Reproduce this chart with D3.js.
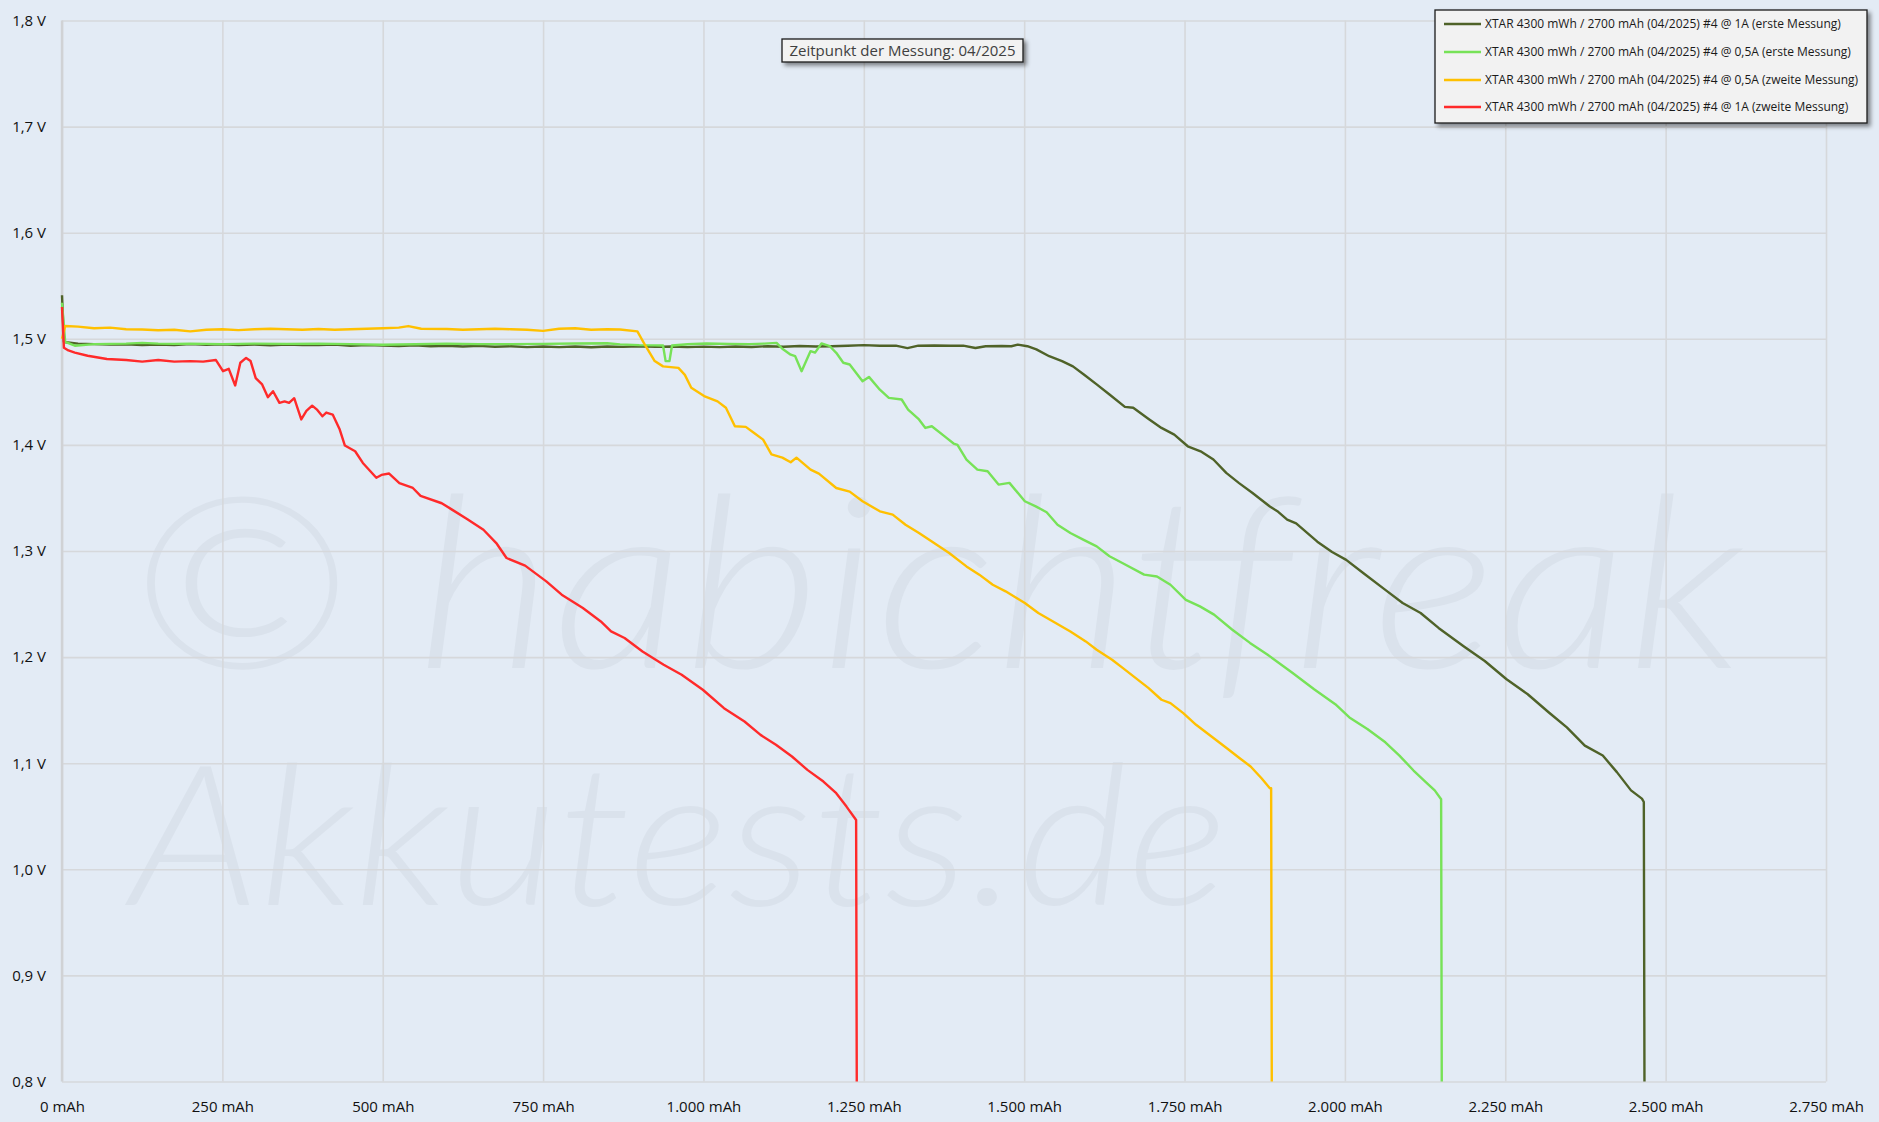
<!DOCTYPE html>
<html>
<head>
<meta charset="utf-8">
<script src="https://cdn.jsdelivr.net/npm/d3@7"></script>
<style>
  html, body { margin: 0; padding: 0; background: #e3ebf5; }
  svg { display: block; }
</style>
</head>
<body>
<svg id="chart" width="1879" height="1122"></svg>
<script>
// ---------------- DATA ----------------
const xTicks = [0, 250, 500, 750, 1000, 1250, 1500, 1750, 2000, 2250, 2500, 2750];
const xTickLabels = ["0 mAh", "250 mAh", "500 mAh", "750 mAh", "1.000 mAh", "1.250 mAh", "1.500 mAh", "1.750 mAh", "2.000 mAh", "2.250 mAh", "2.500 mAh", "2.750 mAh"];
const yTicks = [0.8, 0.9, 1.0, 1.1, 1.2, 1.3, 1.4, 1.5, 1.6, 1.7, 1.8];
const yTickLabels = ["0,8 V", "0,9 V", "1,0 V", "1,1 V", "1,2 V", "1,3 V", "1,4 V", "1,5 V", "1,6 V", "1,7 V", "1,8 V"];

const seriesNames = [
  "XTAR 4300 mWh / 2700 mAh (04/2025) #4 @ 1A (erste Messung)",
  "XTAR 4300 mWh / 2700 mAh (04/2025) #4 @ 0,5A (erste Messung)",
  "XTAR 4300 mWh / 2700 mAh (04/2025) #4 @ 0,5A (zweite Messung)",
  "XTAR 4300 mWh / 2700 mAh (04/2025) #4 @ 1A (zweite Messung)"
];

const annotationText = "Zeitpunkt der Messung: 04/2025";
const watermark1 = "© habichtfreak";
const watermark2 = "Akkutests.de";

// [mAh, V]
const darkFirst = [
  [0,1.541],[3,1.497],[25,1.4955],[50,1.495],[75,1.4945],[100,1.4948],[125,1.494],[150,1.4945],[175,1.4942],[200,1.495],
  [225,1.4943],[250,1.4948],[275,1.494],[300,1.4946],[325,1.4938],[350,1.4945],[375,1.4942],[400,1.494],[425,1.4945],
  [450,1.4935],[475,1.494],[500,1.4937],[525,1.4932],[550,1.4938],[575,1.493],[600,1.4935],[625,1.4928],[650,1.4933],
  [675,1.4925],[700,1.493],[725,1.4922],[750,1.4928],[775,1.4922],[800,1.4928],[825,1.492],[850,1.4928],[875,1.4924],
  [900,1.493],[925,1.4924],[950,1.4928],[975,1.4922],[1000,1.4926],[1025,1.4922],[1050,1.4928],[1075,1.4923],[1100,1.493],
  [1125,1.4925],[1150,1.4932],[1175,1.4928],[1200,1.493],[1225,1.4935],[1250,1.494],[1275,1.4935],[1300,1.4935],
  [1318,1.4912],[1335,1.4935],[1360,1.4937],[1385,1.4935],[1405,1.4935],[1424,1.4913],[1440,1.493],[1465,1.4932],
  [1480,1.493],[1490,1.4945],[1505,1.493],[1519,1.490],[1539,1.4836],[1559,1.479],[1576,1.474],[1593,1.4664],
  [1613,1.457],[1633,1.4475],[1657,1.4358],[1670,1.435],[1694,1.4245],[1714,1.416],[1734,1.4097],[1755,1.3987],
  [1775,1.394],[1795,1.3862],[1815,1.3736],[1835,1.364],[1856,1.3547],[1883,1.342],[1896,1.3369],[1910,1.3296],
  [1924,1.326],[1957,1.3088],[1980,1.299],[2002,1.2916],[2029,1.279],[2063,1.2634],[2090,1.251],[2118,1.2416],
  [2146,1.2275],[2185,1.2103],[2218,1.1963],[2252,1.1791],[2285,1.165],[2318,1.1478],[2346,1.1338],[2374,1.1166],
  [2402,1.1072],[2424,1.0916],[2446,1.0744],[2463,1.0666],[2466,1.0634],[2467,0.80]
];

const greenFirst = [
  [0,1.534],[5,1.497],[20,1.4935],[50,1.495],[75,1.4952],[100,1.4955],[125,1.4962],[150,1.4955],[175,1.4952],[200,1.4955],
  [250,1.495],[300,1.4955],[350,1.4952],[400,1.4955],[450,1.495],[500,1.4944],[550,1.4948],[600,1.4955],[650,1.495],
  [700,1.495],[750,1.4952],[800,1.4956],[850,1.4958],[870,1.4947],[900,1.494],[925,1.4938],[937,1.4937],[941,1.479],
  [947,1.479],[951,1.4937],[975,1.4948],[1005,1.4956],[1040,1.4952],[1072,1.495],[1095,1.4955],[1114,1.4962],
  [1123,1.4906],[1136,1.485],[1143,1.4836],[1153,1.4695],[1167,1.4884],[1174,1.487],[1184,1.4956],[1197,1.493],
  [1207,1.4868],[1218,1.4774],[1228,1.4758],[1248,1.46],[1258,1.4641],[1275,1.452],[1289,1.4443],[1309,1.4428],
  [1319,1.4333],[1336,1.424],[1346,1.416],[1356,1.4176],[1376,1.408],[1390,1.4013],[1396,1.400],[1410,1.3862],
  [1427,1.3767],[1443,1.3752],[1460,1.3626],[1477,1.3642],[1501,1.3469],[1518,1.3421],[1535,1.3365],[1552,1.3248],
  [1572,1.317],[1592,1.3107],[1613,1.3044],[1633,1.295],[1653,1.2887],[1687,1.2777],[1707,1.276],[1728,1.2682],
  [1752,1.254],[1774,1.2478],[1796,1.240],[1824,1.226],[1852,1.2134],[1879,1.2025],[1918,1.1853],[1952,1.1697],
  [1985,1.1556],[2007,1.1431],[2035,1.1322],[2063,1.1197],[2085,1.1072],[2107,1.0931],[2129,1.0806],[2140,1.0744],
  [2150,1.066],[2151,0.80]
];

const yellowSecond = [
  [0,1.500],[5,1.512],[25,1.5115],[50,1.510],[75,1.5105],[100,1.509],[125,1.5088],[150,1.508],[175,1.5085],[200,1.507],
  [225,1.5085],[250,1.509],[275,1.5082],[300,1.509],[325,1.5095],[350,1.509],[375,1.5085],[400,1.5092],[425,1.5085],
  [450,1.509],[475,1.5095],[500,1.510],[525,1.5105],[540,1.512],[560,1.5095],[600,1.5092],[625,1.5085],[650,1.509],
  [675,1.5095],[700,1.509],[725,1.5085],[750,1.5075],[775,1.5095],[800,1.510],[825,1.5085],[850,1.509],[870,1.5088],
  [897,1.507],[910,1.493],[924,1.479],[937,1.474],[961,1.4726],[971,1.466],[981,1.4538],[1001,1.446],[1022,1.441],
  [1035,1.435],[1049,1.4176],[1066,1.417],[1079,1.4113],[1093,1.405],[1106,1.391],[1123,1.388],[1136,1.3836],
  [1145,1.388],[1167,1.3767],[1180,1.373],[1207,1.3594],[1228,1.356],[1248,1.3469],[1275,1.3374],[1295,1.3343],
  [1315,1.3248],[1336,1.317],[1356,1.309],[1383,1.2981],[1410,1.2855],[1430,1.2777],[1451,1.2682],[1471,1.262],
  [1501,1.251],[1522,1.2415],[1545,1.2336],[1572,1.2242],[1596,1.2148],[1613,1.207],[1637,1.1975],[1654,1.1896],
  [1674,1.1802],[1694,1.1708],[1714,1.1598],[1728,1.1566],[1748,1.1472],[1768,1.1362],[1792,1.1252],[1816,1.1141],
  [1836,1.1047],[1853,1.0969],[1870,1.0858],[1883,1.0764],[1885,1.0764],[1886,0.80]
];

const redSecond = [
  [0,1.530],[3,1.4915],[10,1.489],[20,1.487],[40,1.484],[70,1.481],[100,1.480],[125,1.4785],[150,1.480],[175,1.4785],
  [200,1.479],[220,1.4785],[240,1.480],[251,1.4695],[260,1.4717],[270,1.456],[278,1.4774],[287,1.482],[294,1.479],
  [302,1.463],[312,1.457],[321,1.445],[329,1.4506],[339,1.4396],[347,1.441],[354,1.4396],[362,1.444],[373,1.424],
  [381,1.432],[390,1.437],[398,1.433],[406,1.427],[412,1.4305],[422,1.4286],[433,1.4145],[441,1.3994],[457,1.394],
  [469,1.383],[490,1.369],[498,1.3717],[510,1.373],[526,1.364],[547,1.3594],[559,1.352],[592,1.345],[608,1.339],
  [632,1.330],[657,1.320],[677,1.3075],[693,1.2934],[722,1.2862],[755,1.2714],[779,1.2588],[812,1.2462],[840,1.2336],
  [856,1.2242],[877,1.218],[905,1.2053],[938,1.1928],[966,1.1833],[999,1.1692],[1032,1.1519],[1064,1.1393],
  [1089,1.1267],[1113,1.1173],[1138,1.1063],[1162,1.0937],[1187,1.0827],[1207,1.0717],[1223,1.0591],[1238,1.0465],
  [1239,0.80]
];

const seriesData = [darkFirst, greenFirst, yellowSecond, redSecond];
const seriesColors = ["#4f6228", "#77e257", "#ffc000", "#ff2a2a"];

// ---------------- LAYOUT ----------------
const W = 1879, H = 1122;
const plot = { left: 62, right: 1826, top: 20.5, bottom: 1081.5 };

const svg = d3.select("#chart");
const x = d3.scaleLinear().domain([0, 2750]).range([plot.left, plot.right]);
const y = d3.scaleLinear().domain([0.8, 1.8]).range([plot.bottom, plot.top]);

const defs = svg.append("defs");
const f = defs.append("filter").attr("id", "shadow").attr("x", "-10%").attr("y", "-30%").attr("width", "130%").attr("height", "190%");
f.append("feDropShadow").attr("dx", 3).attr("dy", 3).attr("stdDeviation", 2.2).attr("flood-color", "#000").attr("flood-opacity", 0.45);

svg.append("rect").attr("width", W).attr("height", H).attr("fill", "#e3ebf5");

// watermark
const wm = svg.append("g").attr("fill", "#dae2ec").attr("font-family", "Lato, 'Open Sans', sans-serif")
  .attr("font-style", "italic").attr("font-weight", 300);
wm.append("text").attr("x", 130).attr("y", 668).attr("font-size", 240)
  .attr("textLength", 1614).attr("lengthAdjust", "spacingAndGlyphs").text(watermark1);
wm.append("text").attr("x", 130).attr("y", 905).attr("font-size", 196)
  .attr("textLength", 1098).attr("lengthAdjust", "spacingAndGlyphs").text(watermark2);

// grid
const gx = d3.axisBottom(x).tickValues(xTicks).tickSize(-(plot.bottom - plot.top)).tickFormat("");
svg.append("g").attr("transform", `translate(0,${plot.bottom})`).call(gx)
  .call(g => g.select(".domain").remove())
  .call(g => g.selectAll("line").attr("stroke", "#d6d8db").attr("stroke-width", 1.6));
const gy = d3.axisLeft(y).tickValues(yTicks).tickSize(-(plot.right - plot.left)).tickFormat("");
svg.append("g").attr("transform", `translate(${plot.left},0)`).call(gy)
  .call(g => g.select(".domain").remove())
  .call(g => g.selectAll("line").attr("stroke", "#d6d8db").attr("stroke-width", 1.6));
// left axis line
svg.append("line").attr("x1", plot.left).attr("x2", plot.left).attr("y1", plot.top).attr("y2", plot.bottom)
  .attr("stroke", "#d0d2d5").attr("stroke-width", 2.4);

// axis labels
const xl = d3.axisBottom(x).tickValues(xTicks).tickSize(0).tickPadding(0).tickFormat((d, i) => xTickLabels[i]);
svg.append("g").attr("transform", `translate(0,${plot.bottom})`).call(xl)
  .call(g => g.select(".domain").remove())
  .call(g => g.selectAll("text").attr("font-family", "'Open Sans', sans-serif").attr("font-size", 15)
    .attr("fill", "#111").attr("dy", null).attr("y", 30));
const yl = d3.axisLeft(y).tickValues(yTicks).tickSize(0).tickPadding(0).tickFormat((d, i) => yTickLabels[i]);
svg.append("g").attr("transform", `translate(46,0)`).call(yl)
  .call(g => g.select(".domain").remove())
  .call(g => g.selectAll("text").attr("font-family", "'Open Sans', sans-serif").attr("font-size", 15)
    .attr("fill", "#111"));

// lines
const line = d3.line().x(d => x(d[0])).y(d => y(d[1]));
const lg = svg.append("g");
seriesData.forEach((s, i) => {
  lg.append("path").datum(s).attr("d", line).attr("fill", "none")
    .attr("stroke", seriesColors[i]).attr("stroke-width", 2.4).attr("stroke-linejoin", "round");
});

// annotation box
const ann = svg.append("g");
ann.append("rect").attr("x", 782).attr("y", 39).attr("width", 241).attr("height", 23)
  .attr("fill", "#f2f2f2").attr("stroke", "#1a1a1a").attr("stroke-width", 1.3).attr("filter", "url(#shadow)");
ann.append("text").attr("x", 902.5).attr("y", 56).attr("text-anchor", "middle")
  .attr("font-family", "'Open Sans', sans-serif").attr("font-size", 15).attr("fill", "#404040").text(annotationText);

// legend
const leg = svg.append("g");
leg.append("rect").attr("x", 1435).attr("y", 10).attr("width", 432).attr("height", 113)
  .attr("fill", "#f2f2f2").attr("stroke", "#1a1a1a").attr("stroke-width", 1.3).attr("filter", "url(#shadow)");
const legY = [24, 52, 80, 107];
seriesNames.forEach((n, i) => {
  leg.append("line").attr("x1", 1444).attr("x2", 1481).attr("y1", legY[i]).attr("y2", legY[i])
    .attr("stroke", seriesColors[i]).attr("stroke-width", 2.4);
  leg.append("text").attr("x", 1485).attr("y", legY[i] + 4).attr("font-family", "'Open Sans', sans-serif")
    .attr("font-size", 12).attr("fill", "#1a1a1a").text(n);
});
</script>
</body>
</html>
